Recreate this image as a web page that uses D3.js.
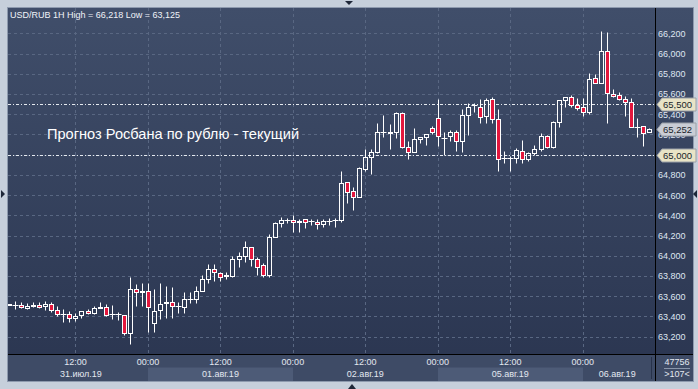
<!DOCTYPE html>
<html>
<head>
<meta charset="utf-8">
<script src="https://cdn.jsdelivr.net/npm/d3@7"></script>
<style>
  body { margin: 0; background: #c6cfdb; }
  svg { display: block; font-family: "Liberation Sans", Arial, sans-serif; }
</style>
</head>
<body>
<div id="chart"></div>
<script>
// days shown on the chart (weekend skipped), first and last hourly bar of each day
var days      = ["31.июл.19", "01.авг.19", "02.авг.19", "05.авг.19", "06.авг.19"],
    firstHour = [1, 0, 0, 0, 0],
    lastHour  = [23, 23, 23, 23, 11];

// hourly OHLC, USD/RUB
var open  = [63518,63518,63512,63483,63499,63512,63506,63526,63463,63427,63423,63381,63413,63453,63430,63479,63493,63423,63423,63413,
             63236,63671,63647,63651,63334,63460,63539,63542,63499,63489,63572,63572,63651,63769,63868,63829,63796,63801,63969,64002,
             64084,63969,63906,63811,64189,64321,64354,64354,64338,64361,64344,64334,64315,64344,64351,64354,64727,64641,64578,64858,
             64974,65022,65220,65220,65220,65408,65071,65022,65151,65170,65259,65358,65167,65180,65220,65137,65391,65487,65473,65384,
             65549,65348,64969,64969,64969,65040,64955,65021,65053,65185,65073,65324,65538,65574,65488,65469,65426,65755,65706,66026,
             65601,65587,65548,65518,65278,65284,65222];
var high  = [63528,63555,63539,63532,63539,63539,63549,63539,63499,63473,63456,63433,63456,63473,63506,63542,63522,63516,63440,63413,
             63789,63723,63730,63730,63674,63730,63697,63694,63542,63638,63638,63697,63812,63918,63918,63842,63835,63998,64035,64150,
             64084,63992,63926,64213,64338,64381,64377,64404,64361,64361,64364,64361,64361,64377,64377,64839,64727,64684,64881,65053,
             65053,65315,65391,65302,65417,65417,65134,65259,65170,65200,65282,65549,65220,65243,65243,65450,65506,65513,65546,65556,
             65566,65450,65035,64986,65062,65146,65027,65096,65212,65195,65334,65541,65574,65587,65558,65558,65811,65798,66218,66213,
             65650,65620,65581,65558,65360,65284,65260];
var low   = [63512,63473,63479,63476,63493,63486,63460,63446,63404,63341,63348,63357,63381,63420,63423,63479,63400,63371,63367,63216,
             63125,63499,63499,63245,63245,63371,63387,63381,63433,63433,63532,63532,63651,63727,63746,63746,63769,63794,63893,63942,
             63900,63814,63794,63794,64189,64282,64328,64239,64239,64278,64305,64262,64282,64305,64288,64338,64526,64456,64578,64842,
             64812,65012,65170,65055,65160,65068,64953,65022,65111,65094,65200,65085,64992,65134,65038,65029,65197,65417,65309,65309,
             65309,64841,64913,64841,64913,64915,64941,64998,65040,65063,65067,65278,65475,65475,65442,65386,65403,65706,65706,65317,
             65570,65541,65383,65271,65172,65090,65222];
var close = [63526,63516,63493,63502,63516,63493,63526,63460,63423,63425,63381,63404,63453,63433,63483,63493,63413,63425,63421,63236,
             63671,63641,63645,63493,63453,63522,63537,63502,63500,63572,63574,63651,63769,63868,63839,63786,63815,63969,64002,64084,
             63965,63893,63811,64189,64325,64354,64356,64334,64340,64334,64346,64315,64344,64346,64353,64717,64634,64578,64865,64974,
             65023,65220,65222,65218,65408,65078,65022,65151,65170,65200,65226,65180,65169,65220,65137,65391,65473,65489,65368,65536,
             65348,64953,64971,64967,65042,64955,65021,65053,65185,65073,65324,65538,65574,65488,65459,65419,65745,65713,66026,65607,
             65577,65554,65518,65271,65276,65218,65252];

var levels    = [65500, 65000];          // forecast lines
var lastPrice = 65252;
var title     = "USD/RUB 1H High = 66,218 Low = 63,125";
var note      = "Прогноз Росбана по рублю - текущий";
var footTop = "47756", footBottom = ">107<";

var W = 698, H = 389;
var plot = {left: 8, top: 8, right: 655, bottom: 354};

// bar -> day index / hour
var bars = [];
days.forEach(function(d, di) {
    for (var h = firstHour[di]; h <= lastHour[di]; h++) bars.push({day: di, hour: h});
});
bars.forEach(function(b, i) { b.o = open[i]; b.h = high[i]; b.l = low[i]; b.c = close[i]; b.i = i; });

var x = d3.scaleLinear().domain([0, bars.length - 1]).range([9.0, 9.0 + (bars.length - 1) * 6.04]);
var y = d3.scaleLinear().domain([63200, 66200]).range([336.7, 33.3]);

var svg = d3.select("#chart").append("svg").attr("width", W).attr("height", H);
var defs = svg.append("defs");

var grad = defs.append("linearGradient").attr("id", "bg").attr("x1", 0).attr("y1", 0).attr("x2", 0).attr("y2", 1);
grad.append("stop").attr("offset", "0%").attr("stop-color", "#404e6a");
grad.append("stop").attr("offset", "100%").attr("stop-color", "#2a3550");

defs.append("clipPath").attr("id", "clip").append("rect")
    .attr("x", plot.left).attr("y", plot.top)
    .attr("width", plot.right - plot.left).attr("height", plot.bottom - plot.top);

// panel
svg.append("rect").attr("x", 7.5).attr("y", 7.5).attr("width", 686).attr("height", 374)
    .attr("fill", "url(#bg)").attr("stroke", "#8e9aae");

// bottom strip
svg.append("rect").attr("x", 8).attr("y", plot.bottom).attr("width", 685).attr("height", 27)
    .attr("fill", "#3e4b66");

var dayStart = [], dayEnd = [];
var idx = 0;
days.forEach(function(d, di) {
    var n = lastHour[di] - firstHour[di] + 1;
    dayStart.push(idx); idx += n; dayEnd.push(idx);
});

days.forEach(function(d, di) {
    var x0 = di === 0 ? plot.left : x(dayStart[di]);
    var x1 = di === days.length - 1 ? 651.5 : x(dayEnd[di]);
    if (di % 2 === 1) {
        svg.append("rect").attr("x", Math.round(x0)).attr("y", 367.5)
            .attr("width", Math.round(x1) - Math.round(x0)).attr("height", 13.5)
            .attr("fill", "#4d5b77");
    }
    svg.append("text").attr("x", (x0 + x1) / 2 + (di === 0 ? 3 : 0)).attr("y", 377)
        .attr("text-anchor", "middle").attr("font-size", 9).attr("fill", "#e3e8f0")
        .text(d);
});

// grid
var g = svg.append("g");
var yTicks = d3.range(63200, 66201, 200);
g.selectAll("line.hg").data(yTicks).enter().append("line")
    .attr("x1", plot.left).attr("x2", plot.right)
    .attr("y1", function(d) { return Math.round(y(d)) + 0.5; })
    .attr("y2", function(d) { return Math.round(y(d)) + 0.5; })
    .attr("stroke", "#596782").attr("stroke-dasharray", "3,3");

var xTicks = bars.filter(function(b) { return b.hour === 0 || b.hour === 12; });
g.selectAll("line.vg").data(xTicks).enter().append("line")
    .attr("x1", function(b) { return Math.round(x(b.i)) + 0.5; })
    .attr("x2", function(b) { return Math.round(x(b.i)) + 0.5; })
    .attr("y1", plot.top).attr("y2", plot.bottom)
    .attr("stroke", "#596782").attr("stroke-dasharray", "3,3");

svg.selectAll("text.tt").data(xTicks).enter().append("text")
    .attr("x", function(b) { return x(b.i); }).attr("y", 365)
    .attr("text-anchor", "middle").attr("font-size", 9).attr("fill", "#e3e8f0")
    .text(function(b) { return b.hour === 0 ? "00:00" : "12:00"; });

// forecast levels
svg.selectAll("line.lv").data(levels).enter().append("line")
    .attr("x1", plot.left).attr("x2", plot.right)
    .attr("y1", function(d) { return Math.round(y(d)) + 0.5; })
    .attr("y2", function(d) { return Math.round(y(d)) + 0.5; })
    .attr("stroke", "#e6eaf0").attr("stroke-dasharray", "3,2,1,2");

// candles
var cg = svg.append("g").attr("clip-path", "url(#clip)");
var candle = cg.selectAll("g.c").data(bars).enter().append("g");
candle.each(function(b) {
    var s = d3.select(this);
    var cx = Math.round(x(b.i)) + 0.5;
    var top = Math.round(y(Math.max(b.o, b.c))) + 0.5,
        bot = Math.round(y(Math.min(b.o, b.c))) + 0.5,
        hi = Math.round(y(b.h)) + 0.5,
        lo = Math.round(y(b.l)) + 0.5;
    if (hi < top) s.append("line").attr("x1", cx).attr("x2", cx).attr("y1", hi).attr("y2", top).attr("stroke", "#fff");
    if (lo > bot) s.append("line").attr("x1", cx).attr("x2", cx).attr("y1", bot).attr("y2", lo).attr("stroke", "#fff");
    if (bot - top < 1) {
        s.append("line").attr("x1", cx - 3).attr("x2", cx + 3).attr("y1", top).attr("y2", top)
            .attr("stroke", "#fff");
    } else {
        s.append("rect").attr("x", cx - 2).attr("y", top).attr("width", 4).attr("height", bot - top)
            .attr("fill", b.c < b.o ? "#e3173d" : "none").attr("stroke", "#fff");
    }
});

// separators
svg.append("line").attr("x1", plot.right + 0.5).attr("x2", plot.right + 0.5).attr("y1", 8).attr("y2", 381)
    .attr("stroke", "#000");
svg.append("line").attr("x1", 8).attr("x2", 693).attr("y1", plot.bottom + 0.5).attr("y2", plot.bottom + 0.5)
    .attr("stroke", "#000");
svg.append("line").attr("x1", 651.5).attr("x2", 651.5).attr("y1", 357).attr("y2", 379)
    .attr("stroke", "#27324a");

// right axis
var axis = d3.axisRight(y).tickValues(yTicks).tickFormat(d3.format(",")).tickSize(0).tickPadding(3);
var ax = svg.append("g").attr("transform", "translate(" + plot.right + ",0)").call(axis);
ax.select(".domain").remove();
ax.selectAll("text").attr("font-size", 9).attr("fill", "#dfe6f2").attr("font-family", "Liberation Sans, Arial, sans-serif");

// price tags
var tags = [
    {v: levels[0], fill: "#e9e4c6"},
    {v: lastPrice, fill: "#c9cdd5"},
    {v: levels[1], fill: "#e9e4c6"}
];
tags.forEach(function(t) {
    var ty = Math.round(y(t.v)) + 0.5;
    svg.append("path")
        .attr("d", "M657," + ty + "L662," + (ty - 6.5) + "L696," + (ty - 6.5) + "L696," + (ty + 6.5) + "L662," + (ty + 6.5) + "Z")
        .attr("fill", t.fill).attr("stroke", "#9aa0a8");
    svg.append("text").attr("x", 663).attr("y", ty + 3.5).attr("font-size", 9.5).attr("fill", "#1a1f2a")
        .text(d3.format(",")(t.v));
});

// footer cell
svg.append("text").attr("x", 677).attr("y", 365).attr("text-anchor", "middle").attr("font-size", 9)
    .attr("fill", "#e3e8f0").text(footTop);
svg.append("line").attr("x1", 664).attr("x2", 690).attr("y1", 368.5).attr("y2", 368.5).attr("stroke", "#8a96ab");
svg.append("text").attr("x", 677).attr("y", 377).attr("text-anchor", "middle").attr("font-size", 9)
    .attr("fill", "#e3e8f0").text(footBottom);

// titles
svg.append("text").attr("x", 10).attr("y", 18).attr("font-size", 9).attr("fill", "#f0f3f8").text(title);
svg.append("text").attr("x", 47).attr("y", 139).attr("font-size", 14.6).attr("fill", "#ffffff").text(note);

// scroll arrows
var arrow = "#1e2738";
svg.append("path").attr("d", "M345,1L353,1L349,5Z").attr("fill", arrow);
svg.append("path").attr("d", "M348,389L356,389L352,384Z").attr("fill", arrow);
svg.append("path").attr("d", "M1,190L1,198L5,194Z").attr("fill", arrow);
svg.append("path").attr("d", "M697,190L697,198L693,194Z").attr("fill", arrow);
</script>
</body>
</html>
